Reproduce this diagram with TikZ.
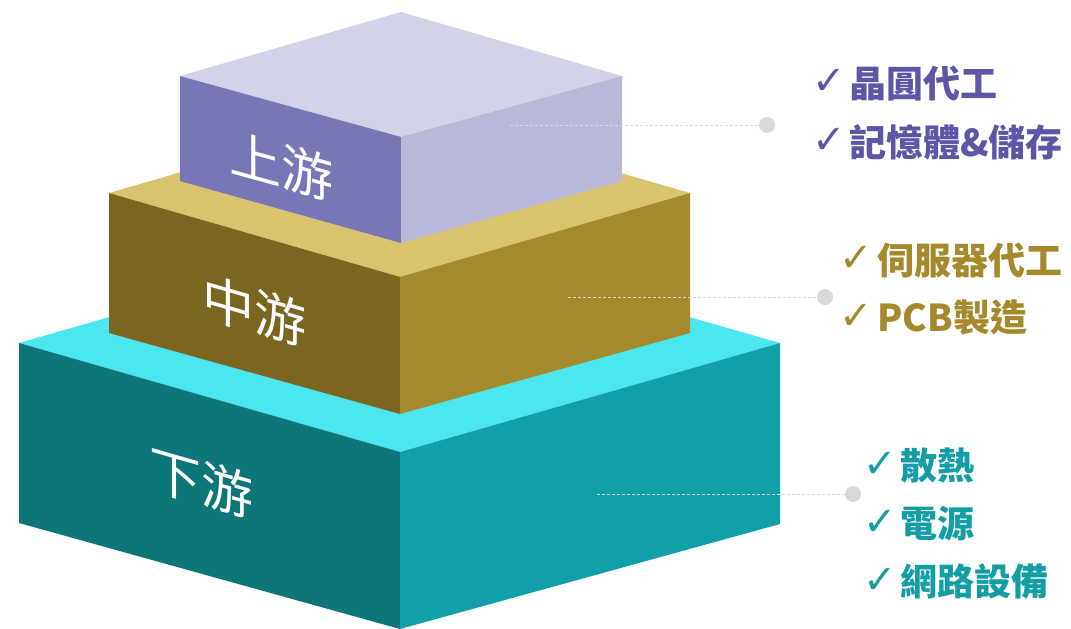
\documentclass[tikz,border=0pt]{standalone}
\usepackage{fontspec}
\setmainfont{Noto Sans CJK TC}
\newfontfamily\symf{DejaVu Sans}
\definecolor{tTop}{HTML}{D3D3E8}
\definecolor{tLeft}{HTML}{7877B5}
\definecolor{tRight}{HTML}{B8B8D8}
\definecolor{mTop}{HTML}{DAC36F}
\definecolor{mLeft}{HTML}{7B6620}
\definecolor{mRight}{HTML}{A6892B}
\definecolor{bTop}{HTML}{4CE6EE}
\definecolor{bLeft}{HTML}{0C7679}
\definecolor{bRight}{HTML}{11A0A8}
\definecolor{cPurple}{HTML}{5D55A6}
\definecolor{cGold}{HTML}{A6892B}
\definecolor{cTeal}{HTML}{139EA6}
\definecolor{dotgray}{HTML}{D9D9D9}
\begin{document}
\begin{tikzpicture}[x=1pt,y=-1pt,
  boxlabel/.style={text=white,inner sep=0,font=\fontsize{52}{52}\selectfont},
  item/.style={anchor=west,inner sep=0,font=\fontsize{37}{37}\selectfont\bfseries},
  chk/.style={anchor=west,inner sep=0,font=\symf\fontsize{40}{40}\selectfont},
  dotnode/.style={circle,fill=dotgray,minimum size=16pt,inner sep=0},
  lead/.style={draw=dotgray,dash pattern=on 3pt off 2pt,line width=1pt}]
\useasboundingbox (0,0) rectangle (1071,629);
% bottom box
\fill[bTop] (19,343) -- (399,234) -- (780,343) -- (400,452) -- cycle;
\fill[bLeft] (19,343) -- (400,452) -- (400,629) -- (19,523) -- cycle;
\fill[bRight] (400,452) -- (780,343) -- (780,524) -- (400,629) -- cycle;
% middle box
\fill[mTop] (109,193) -- (399,109) -- (690,193) -- (400,277) -- cycle;
\fill[mLeft] (109,193) -- (400,277) -- (400,414) -- (109,333) -- cycle;
\fill[mRight] (400,277) -- (690,193) -- (690,333) -- (400,414) -- cycle;
% top box
\fill[tTop] (180,76) -- (401,12) -- (622,76) -- (401,137) -- cycle;
\fill[tLeft] (180,76) -- (401,137) -- (401,243) -- (180,181) -- cycle;
\fill[tRight] (401,137) -- (622,76) -- (622,181) -- (401,243) -- cycle;
% face labels
\node[boxlabel,yslant=-0.276] (up) at (281,166) {上游};
\node[boxlabel,yslant=-0.289] (mid) at (254,311) {中游};
\node[boxlabel,yslant=-0.286] (down) at (201,483) {下游};
% leaders
\coordinate (s1) at (510,125);
\coordinate (s2) at (568,297);
\coordinate (s3) at (597,494);
\node[dotnode] (d1) at (767,125) {};
\node[dotnode] (d2) at (825,297) {};
\node[dotnode] (d3) at (853,494) {};
\draw[lead] (s1) -- (d1);
\draw[lead] (s2) -- (d2);
\draw[lead] (s3) -- (d3);
% upstream items
\node[chk,text=cPurple] (c11) at (812,82) {✓};
\node[item,text=cPurple] (t11) at (849,83) {晶圓代工};
\node[chk,text=cPurple] (c12) at (812,141) {✓};
\node[item,text=cPurple] (t12) at (849,142) {記憶體\&儲存};
% midstream items
\node[chk,text=cGold] (c21) at (839,259) {✓};
\node[item,text=cGold] (t21) at (877,260) {伺服器代工};
\node[chk,text=cGold] (c22) at (839,317) {✓};
\node[item,text=cGold] (t22) at (877,318) {PCB製造};
% downstream items
\node[chk,text=cTeal] (c31) at (863,465) {✓};
\node[item,text=cTeal] (t31) at (900,466) {散熱};
\node[chk,text=cTeal] (c32) at (863,523) {✓};
\node[item,text=cTeal] (t32) at (900,524) {電源};
\node[chk,text=cTeal] (c33) at (863,581) {✓};
\node[item,text=cTeal] (t33) at (900,582) {網路設備};
\end{tikzpicture}
\end{document}
